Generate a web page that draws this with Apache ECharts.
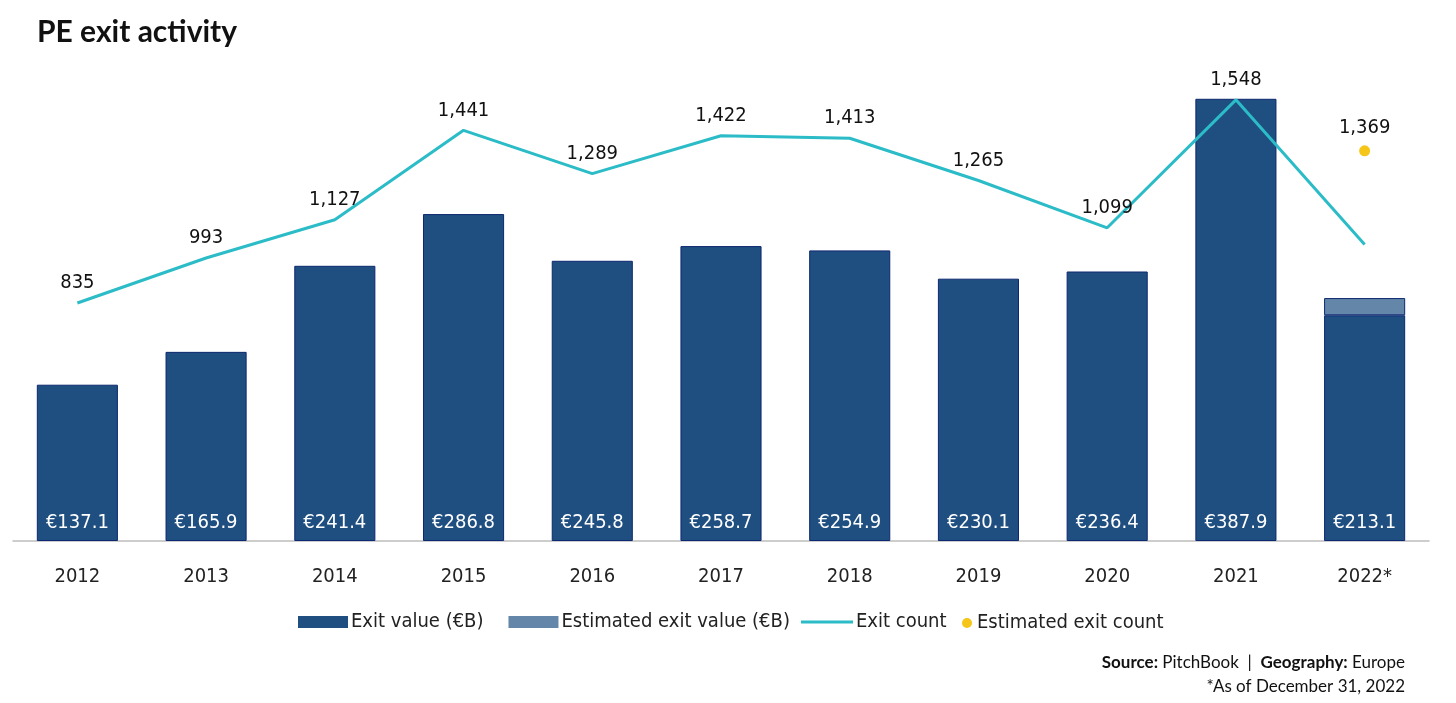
<!DOCTYPE html>
<html>
<head>
<meta charset="utf-8">
<script src="https://cdn.jsdelivr.net/npm/echarts@6/dist/echarts.min.js"></script>
<style>
html,body{margin:0;padding:0;background:#fff;}
#c{width:1456px;height:703px;}
</style>
</head>
<body>
<div id="c"></div>
<script>
const categories = ['2012','2013','2014','2015','2016','2017','2018','2019','2020','2021','2022*'];
const exitValue = [137.1,165.9,241.4,286.8,245.8,258.7,254.9,230.1,236.4,387.9,198.0];
const estimatedExitValue = [null,null,null,null,null,null,null,null,null,null,15.1];
const exitValueLabels = ['€137.1','€165.9','€241.4','€286.8','€245.8','€258.7','€254.9','€230.1','€236.4','€387.9','€213.1'];
const exitCount = [835,993,1127,1441,1289,1422,1413,1265,1099,1548,1040];
const estimatedExitCount = [null,null,null,null,null,null,null,null,null,null,1369];

const FONT = '"Liberation Sans Narrow","DejaVu Sans Condensed","Noto Sans",sans-serif';
const LT = {fontFamily:FONT,fontSize:20,color:'#222'};
const chart = echarts.init(document.getElementById('c'));
chart.setOption({
  animation:false,
  backgroundColor:'#fff',
  textStyle:{fontFamily:FONT},
  graphic:[
    {type:'text',left:37,top:17,style:{text:'PE exit activity',font:'bold 30px Lato, "Open Sans", sans-serif',fill:'#111'}},
    {type:'text',right:51,top:654,style:{rich:{b:{font:'bold 17px Lato, "Open Sans", sans-serif',fill:'#111'},n:{font:'17px Lato, "Open Sans", sans-serif',fill:'#111'}},text:'{b|Source:}{n| PitchBook  |  }{b|Geography:}{n| Europe}',align:'right'}},
    {type:'text',right:51,top:678,style:{text:'*As of December 31, 2022',font:'17px Lato, "Open Sans", sans-serif',fill:'#111',align:'right'}}
  ],
  legend:[
    {left:293,top:607,itemWidth:50,itemHeight:12,itemGap:25,
     itemStyle:{borderWidth:0},
     textStyle:Object.assign({padding:[2,0,0,-2]},LT),
     data:[{name:'Exit value (€B)',icon:'rect'},{name:'Estimated exit value (€B)',icon:'rect'}]},
    {left:796,top:607,itemWidth:52,itemHeight:3,
     itemStyle:{borderWidth:0},
     textStyle:Object.assign({padding:[2,0,0,-2]},LT),
     data:[{name:'Exit count',icon:'rect'}]},
    {left:957,top:608,itemWidth:10,itemHeight:10,
     textStyle:Object.assign({padding:[2,0,0,0]},LT),
     data:[{name:'Estimated exit count',icon:'circle'}]}
  ],
  grid:{left:13,right:27,top:85,bottom:162},
  xAxis:{type:'category',data:categories,
    axisLine:{lineStyle:{color:'#bdbdbd',width:1.5}},axisTick:{show:false},
    axisLabel:{fontFamily:FONT,fontSize:20,color:'#222',margin:26}},
  yAxis:[
    {type:'value',min:0,max:400,show:false,splitLine:{show:false}},
    {type:'value',min:0,max:1600,show:false,splitLine:{show:false}}
  ],
  series:[
    {name:'Exit value (€B)',type:'bar',stack:'v',data:exitValue,barWidth:'63%',
     itemStyle:{color:'#1f4e80',borderColor:'#0d2870',borderWidth:1},
     label:{show:true,position:'insideBottom',distance:8,color:'#fff',fontFamily:FONT,fontSize:20,
       formatter:p=>exitValueLabels[p.dataIndex]}},
    {name:'Estimated exit value (€B)',type:'bar',stack:'v',data:estimatedExitValue,barWidth:'63%',
     itemStyle:{color:'#6487a9',borderColor:'#0d2870',borderWidth:1}},
    {name:'Exit count',type:'line',yAxisIndex:1,
     data:exitCount.map((v,i)=>i===exitCount.length-1?{value:v,label:{show:false}}:v),
     showSymbol:true,symbol:'circle',symbolSize:0,
     lineStyle:{color:'#2bbcc8',width:3},itemStyle:{color:'#2bbcc8'},
     label:{show:true,position:'top',distance:10,color:'#111',fontFamily:FONT,fontSize:20,
       formatter:p=>p.value.toLocaleString('en-US')}},
    {name:'Estimated exit count',type:'scatter',yAxisIndex:1,data:estimatedExitCount,
     symbolSize:11,itemStyle:{color:'#f5c518',opacity:1},
     label:{show:true,position:'top',distance:8,color:'#111',opacity:1,fontFamily:FONT,fontSize:20,
       formatter:p=>p.value.toLocaleString('en-US')}}
  ]
});
</script>
</body>
</html>
